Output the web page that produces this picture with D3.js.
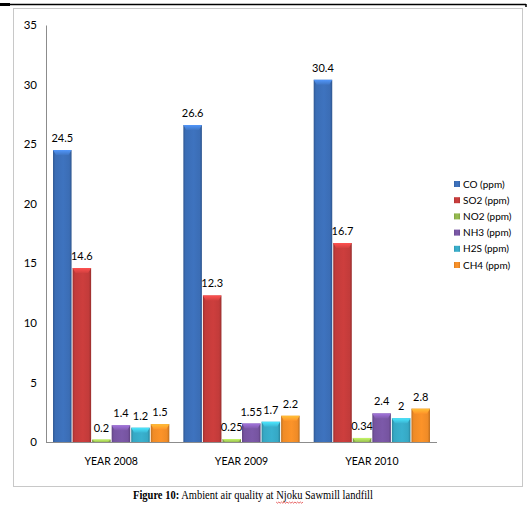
<!DOCTYPE html>
<html>
<head>
<meta charset="utf-8">
<script src="https://cdn.jsdelivr.net/npm/d3@7"></script>
<style>
  html, body { margin: 0; padding: 0; background: #fff; }
  svg { display: block; }
</style>
</head>
<body>
<svg id="chart" width="529" height="509"></svg>
<script>
// Ambient air quality measurements per year (ppm)
const years = ["YEAR 2008", "YEAR 2009", "YEAR 2010"];
const pollutants = ["CO (ppm)", "SO2 (ppm)", "NO2 (ppm)", "NH3 (ppm)", "H2S (ppm)", "CH4 (ppm)"];
const CO  = [24.5, 26.6, 30.4];
const SO2 = [14.6, 12.3, 16.7];
const NO2 = [0.2, 0.25, 0.34];
const NH3 = [1.4, 1.55, 2.4];
const H2S = [1.2, 1.7, 2];
const CH4 = [1.5, 2.2, 2.8];
const yTicks = [0, 5, 10, 15, 20, 25, 30, 35];
const colors = ["#3b6db5", "#c23b3a", "#8fb34b", "#7654a0", "#36a8c4", "#ef8b27"];

const seriesValues = [CO, SO2, NO2, NH3, H2S, CH4];
const svg = d3.select("#chart");
const labelFont = "Lato, 'Open Sans', sans-serif";

// page rule and chart frame
svg.append("line").attr("x1", 0).attr("x2", 526).attr("y1", 4.5).attr("y2", 4.5)
  .attr("stroke", "#000").attr("stroke-width", 1.5);
svg.append("rect").attr("x", 0).attr("y", 3).attr("width", 10).attr("height", 3).attr("fill", "#000");
svg.append("line").attr("x1", 526).attr("x2", 526).attr("y1", 4).attr("y2", 7)
  .attr("stroke", "#000").attr("stroke-width", 1.5);
svg.append("rect").attr("x", 13.5).attr("y", 8.5).attr("width", 509).attr("height", 478)
  .attr("fill", "#fff").attr("stroke", "#c8c8c8").attr("stroke-width", 1);

const plot = { left: 46, right: 437, top: 25, bottom: 442 };

const x0 = d3.scaleBand().domain(years).range([plot.left, plot.right]).paddingInner(0.1).paddingOuter(0.05);
const x1 = d3.scaleBand().domain(d3.range(pollutants.length)).range([0, x0.bandwidth()]);
const y = d3.scaleLinear().domain([0, 35]).range([plot.bottom, plot.top]);

// gradients for the bevelled bar look
const defs = svg.append("defs");
colors.forEach((c, i) => {
  const g = defs.append("linearGradient").attr("id", "grad" + i)
    .attr("x1", "0%").attr("x2", "100%").attr("y1", "0%").attr("y2", "0%");
  const base = d3.color(c);
  g.append("stop").attr("offset", "0%").attr("stop-color", base.darker(0.6));
  g.append("stop").attr("offset", "12%").attr("stop-color", base);
  g.append("stop").attr("offset", "55%").attr("stop-color", base.brighter(0.15));
  g.append("stop").attr("offset", "88%").attr("stop-color", base);
  g.append("stop").attr("offset", "100%").attr("stop-color", base.darker(0.7));
  const t = defs.append("linearGradient").attr("id", "cap" + i)
    .attr("x1", "0%").attr("x2", "0%").attr("y1", "0%").attr("y2", "100%");
  t.append("stop").attr("offset", "0%").attr("stop-color", base.brighter(0.9));
  t.append("stop").attr("offset", "100%").attr("stop-color", base.brighter(0.2));
});

// y axis
const yAxis = d3.axisLeft(y).tickValues(yTicks).tickSize(0).tickPadding(9);
const yg = svg.append("g").attr("transform", `translate(${plot.left},0)`).call(yAxis);
yg.select(".domain").attr("stroke", "#8c8c8c");
yg.selectAll("text").attr("font-family", labelFont).attr("font-size", 11.5).attr("fill", "#000");

// x axis
const xAxis = d3.axisBottom(x0).tickSize(0).tickPadding(16);
const xg = svg.append("g").attr("transform", `translate(0,${plot.bottom})`).call(xAxis);
xg.select(".domain").attr("stroke", "#8c8c8c").attr("d", `M${plot.left},0.5H${plot.right}`);
xg.selectAll("text").attr("font-family", labelFont).attr("font-size", 10.5).attr("fill", "#000");

// bars
const groups = svg.append("g").selectAll("g").data(years).join("g")
  .attr("transform", d => `translate(${x0(d)},0)`);

groups.each(function(year, yi) {
  const g = d3.select(this);
  seriesValues.forEach((vals, si) => {
    const v = vals[yi];
    const bx = x1(si) + 0.5;
    const bw = x1.bandwidth() - 1;
    const top = y(v);
    const h = plot.bottom - top;
    g.append("rect").attr("x", bx).attr("y", top).attr("width", bw).attr("height", h)
      .attr("fill", `url(#grad${si})`);
    const capH = Math.min(5, h);
    g.append("path")
      .attr("d", `M${bx},${top}H${bx + bw}L${bx + bw - 3},${top + capH}H${bx + 3}Z`)
      .attr("fill", `url(#cap${si})`);
    g.append("text")
      .attr("x", x1(si) + x1.bandwidth() / 2)
      .attr("y", top - 8)
      .attr("text-anchor", "middle")
      .attr("font-family", labelFont)
      .attr("font-size", 11)
      .attr("fill", "#000")
      .text(v);
  });
});

// legend
const legend = svg.append("g").attr("transform", "translate(454,181)");
pollutants.forEach((p, i) => {
  const row = legend.append("g").attr("transform", `translate(0,${i * 16.2})`);
  row.append("rect").attr("x", 0).attr("y", 0).attr("width", 6).attr("height", 6)
    .attr("fill", `url(#grad${i})`);
  row.append("text").attr("x", 9).attr("y", 6.5)
    .attr("font-family", labelFont).attr("font-size", 10).attr("fill", "#000")
    .text(p);
});

// caption, set in a narrow serif
const capG = svg.append("g").attr("transform", "translate(133,499) scale(0.84,1)");
const cap = capG.append("text").attr("x", 0).attr("y", 0)
  .attr("font-family", "'Liberation Serif', 'Times New Roman', serif").attr("font-size", 12.5)
  .attr("fill", "#000");
cap.append("tspan").attr("font-weight", "bold").text("Figure 10:");
cap.append("tspan").text(" Ambient air quality at ");
const nj = cap.append("tspan").text("Njoku");
cap.append("tspan").text(" Sawmill landfill");

// red wavy underline below the place name
const njNode = nj.node();
const start = njNode.getStartPositionOfChar(0);
const end = njNode.getEndPositionOfChar(njNode.getNumberOfChars() - 1);
let wave = `M${start.x},${start.y + 3}`;
for (let xx = start.x, k = 0; xx < end.x; xx += 1.6, k++) {
  wave += `L${xx + 1.6},${start.y + (k % 2 === 0 ? 4.2 : 3)}`;
}
capG.append("path").attr("d", wave).attr("fill", "none").attr("stroke", "#e03030").attr("stroke-width", 0.8);
</script>
</body>
</html>
